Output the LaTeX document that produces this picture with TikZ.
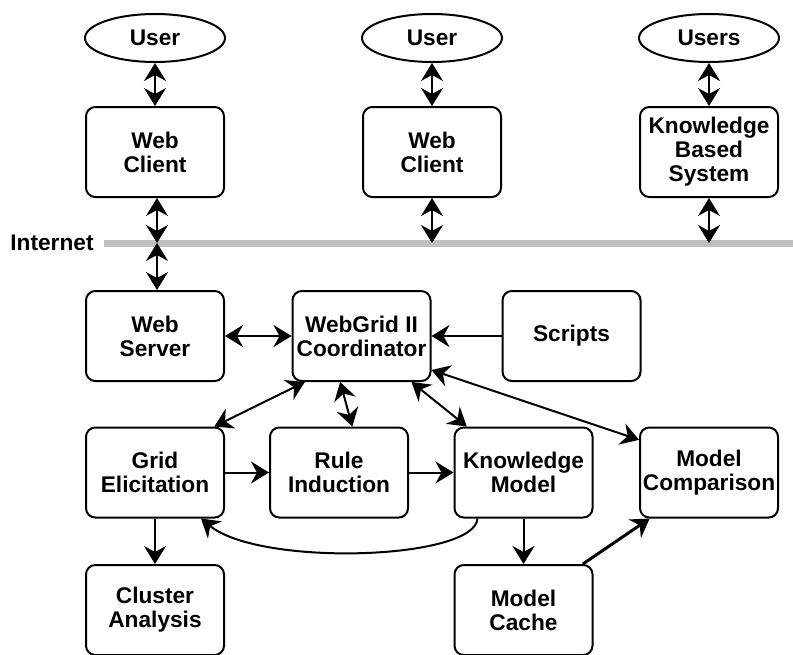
\documentclass[tikz,border=0pt]{standalone}
\usepackage{fontspec}
\setmainfont{Liberation Sans}
\usetikzlibrary{shapes.geometric,arrows.meta}

\tikzset{
  box/.style={draw, line width=1.5pt, rounded corners=7pt, minimum width=103.5pt,
    minimum height=67.5pt, align=center, inner sep=1pt,
    font=\fontsize{17}{18}\selectfont\bfseries},
  person/.style={draw, ellipse, line width=1.5pt, minimum width=105pt, minimum height=36pt,
    inner sep=0pt, font=\fontsize{17}{18}\selectfont\bfseries},
  onearrow/.style={line width=1.5pt, arrows={-Stealth[length=13.5pt,width=16.5pt,inset=4.5pt]}},
  twoarrow/.style={line width=1.5pt, arrows={Stealth[length=13.5pt,width=16.5pt,inset=4.5pt]-Stealth[length=13.5pt,width=16.5pt,inset=4.5pt]}},
}

\begin{document}
\begin{tikzpicture}[x=0.75pt,y=-0.75pt]
    \useasboundingbox (0,0) rectangle (793,654);

    % Internet backbone
    \draw [line width=5.25pt, color={rgb,255:red,191; green,191; blue,191}] (104,243) -- (793,243);
    \node (inet) at (52,243) [font=\fontsize{17}{18}\selectfont\bfseries] {Internet};
    \coordinate (net1) at (157,243);
    \coordinate (net2) at (432,243);
    \coordinate (net3) at (709,243);

    % Users and clients
    \node (user1) at (155,38) [person] {User};
    \node (user2) at (432,38) [person] {User};
    \node (users) at (709,38) [person] {Users};
    \node (client1) at (155,152) [box] {Web\\Client};
    \node (client2) at (432,152) [box] {Web\\Client};
    \node (kbs) at (709,152) [box] {Knowledge\\Based\\System};

    % Server side
    \node (server) at (155,336) [box] {Web\\Server};
    \node (coord) at (361.5,336) [box] {WebGrid II\\Coordinator};
    \node (scripts) at (571.5,336) [box] {Scripts};
    \node (grid) at (155,472.5) [box] {Grid\\Elicitation};
    \node (rule) at (339,472.5) [box] {Rule\\Induction};
    \node (km) at (523.5,472.5) [box] {Knowledge\\Model};
    \node (comp) at (709,472.5) [box] {Model\\Comparison};
    \node (cluster) at (155,610) [box] {Cluster\\Analysis};
    \node (cache) at (523.5,610) [box] {Model\\Cache};

    % Connections through the internet
    \draw [twoarrow] (user1) -- (client1);
    \draw [twoarrow] (user2) -- (client2);
    \draw [twoarrow] (users) -- (kbs);
    \draw [twoarrow] ([xshift=1.5pt]client1.south) -- (net1);
    \draw [twoarrow] (net1) -- ([xshift=1.5pt]server.north);
    \draw [twoarrow] (client2) -- (net2);
    \draw [twoarrow] (kbs) -- (net3);

    % Coordinator links
    \draw [twoarrow] (server) -- (coord);
    \draw [onearrow] (scripts) -- (coord);
    \draw [twoarrow] ([xshift=10pt]coord.south west) -- ([xshift=-8pt]grid.north east);
    \draw [twoarrow] ([xshift=-16pt]coord.south) -- ([xshift=10pt]rule.north);
    \draw [twoarrow] ([xshift=-15pt]coord.south east) -- ([xshift=10pt]km.north west);
    \draw [twoarrow] ([yshift=9pt]coord.south east) -- ([yshift=-10pt]comp.north west);

    % Processing chain
    \draw [onearrow] (grid) -- (rule);
    \draw [onearrow] (rule) -- (km);
    \draw [onearrow] (grid) -- (cluster);
    \draw [onearrow] (km) -- (cache);
    \draw [onearrow, line width=2.25pt] ([xshift=-8pt]cache.north east) -- ([xshift=8pt]comp.south west);
    \draw [onearrow] ([xshift=18pt]km.south west) .. controls (475,560) and (260,567) .. ([xshift=-18pt]grid.south east);

\end{tikzpicture}
\end{document}
